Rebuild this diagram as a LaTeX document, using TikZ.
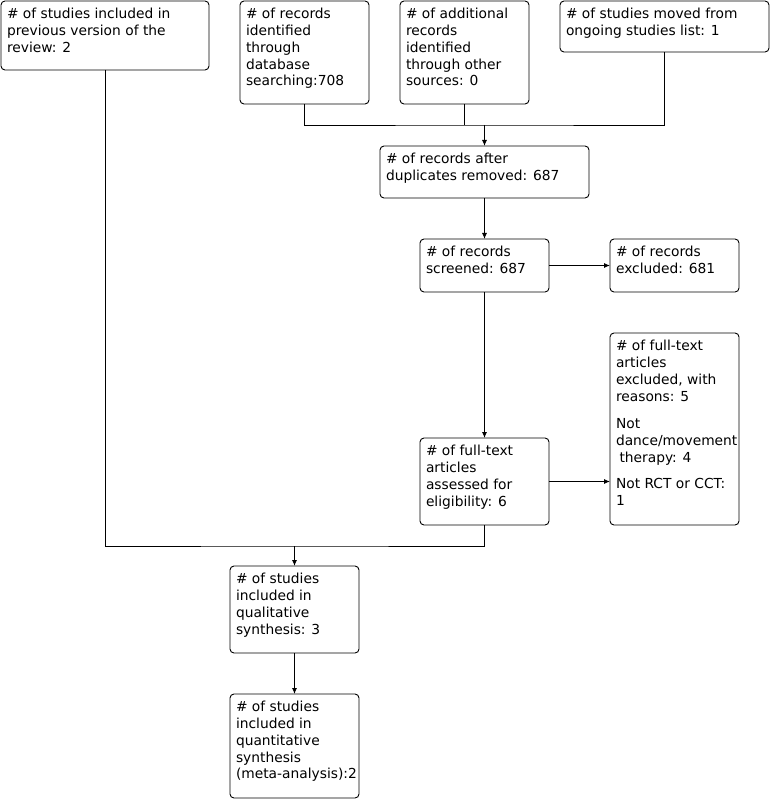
\documentclass[tikz,border=0pt]{standalone}
\usepackage{fontspec}
\setmainfont{DejaVu Sans}
\usetikzlibrary{arrows.meta,calc}
\tikzset{
  box/.style={draw, line width=0.9pt, rounded corners=4pt, inner sep=0pt, outer sep=0pt, anchor=north west},
  txt/.style={anchor=north west, inner sep=0pt, outer sep=0pt, align=left, font=\fontsize{13.8}{16.7}\selectfont},
  conn/.style={line width=0.9pt},
  arr/.style={line width=0.9pt, -{Latex[length=6pt,width=5pt]}}
}
\newcommand{\boxtext}[3]{\node[txt] (#1t) at ($(#1.north west)+(6pt,-7.5pt)$) {#2};}
\begin{document}
\begin{tikzpicture}[x=1pt,y=-1pt]
\useasboundingbox (0,0) rectangle (772,799);
% boxes
\node[box, minimum width=208, minimum height=69] (A) at (1,1) {};
\node[box, minimum width=129, minimum height=103] (B) at (240,1) {};
\node[box, minimum width=129, minimum height=103] (C) at (400,1) {};
\node[box, minimum width=209, minimum height=51] (D) at (560,1) {};
\node[box, minimum width=209, minimum height=52] (E) at (380,146) {};
\node[box, minimum width=129, minimum height=53] (F) at (420,239) {};
\node[box, minimum width=129, minimum height=53] (G) at (610,239) {};
\node[box, minimum width=129, minimum height=87] (H) at (420,438) {};
\node[box, minimum width=129, minimum height=192] (I) at (610,333) {};
\node[box, minimum width=129, minimum height=87] (J) at (230,566) {};
\node[box, minimum width=129, minimum height=104] (K) at (230,694) {};
% texts
\boxtext{A}{\# of studies included in\\previous version of the\\review: 2}{}
\boxtext{B}{\# of records\\identified\\through\\database\\searching:708}{}
\boxtext{C}{\# of additional\\records\\identified\\through other\\sources: 0}{}
\boxtext{D}{\# of studies moved from\\ongoing studies list: 1}{}
\boxtext{E}{\# of records after\\duplicates removed: 687}{}
\boxtext{F}{\# of records\\screened: 687}{}
\boxtext{G}{\# of records\\excluded: 681}{}
\boxtext{H}{\# of full-text\\articles\\assessed for\\eligibility: 6}{}
\boxtext{I}{\# of full-text\\articles\\excluded, with\\reasons: 5\\[11pt]Not\\dance/movement\\\hspace{3.5pt}therapy: 4\\[10pt]Not RCT or CCT:\\1}{}
\boxtext{J}{\# of studies\\included in\\qualitative\\synthesis: 3}{}
\boxtext{K}{\# of studies\\included in\\quantitative\\synthesis\\(meta-analysis):2}{}
% connectors
\path (E.north) ++(0,-21) coordinate (jtop);
\path (J.north) ++(0,-20) coordinate (jmid);
\draw[conn] (B.south) |- (jtop) -| (D.south);
\draw[conn] (C.south) -- (C.south |- jtop);
\draw[arr] (jtop) -- (E.north);
\draw[arr] (E.south) -- (F.north);
\draw[arr] (F.east) -- (G.west);
\draw[arr] (F.south) -- (H.north);
\draw[arr] (H.east) -- (I.west |- H.east);
\draw[conn] (A.south) |- (jmid) -| (H.south);
\draw[arr] (jmid) -- (J.north);
\draw[arr] (J.south) -- (K.north);
\end{tikzpicture}
\end{document}
